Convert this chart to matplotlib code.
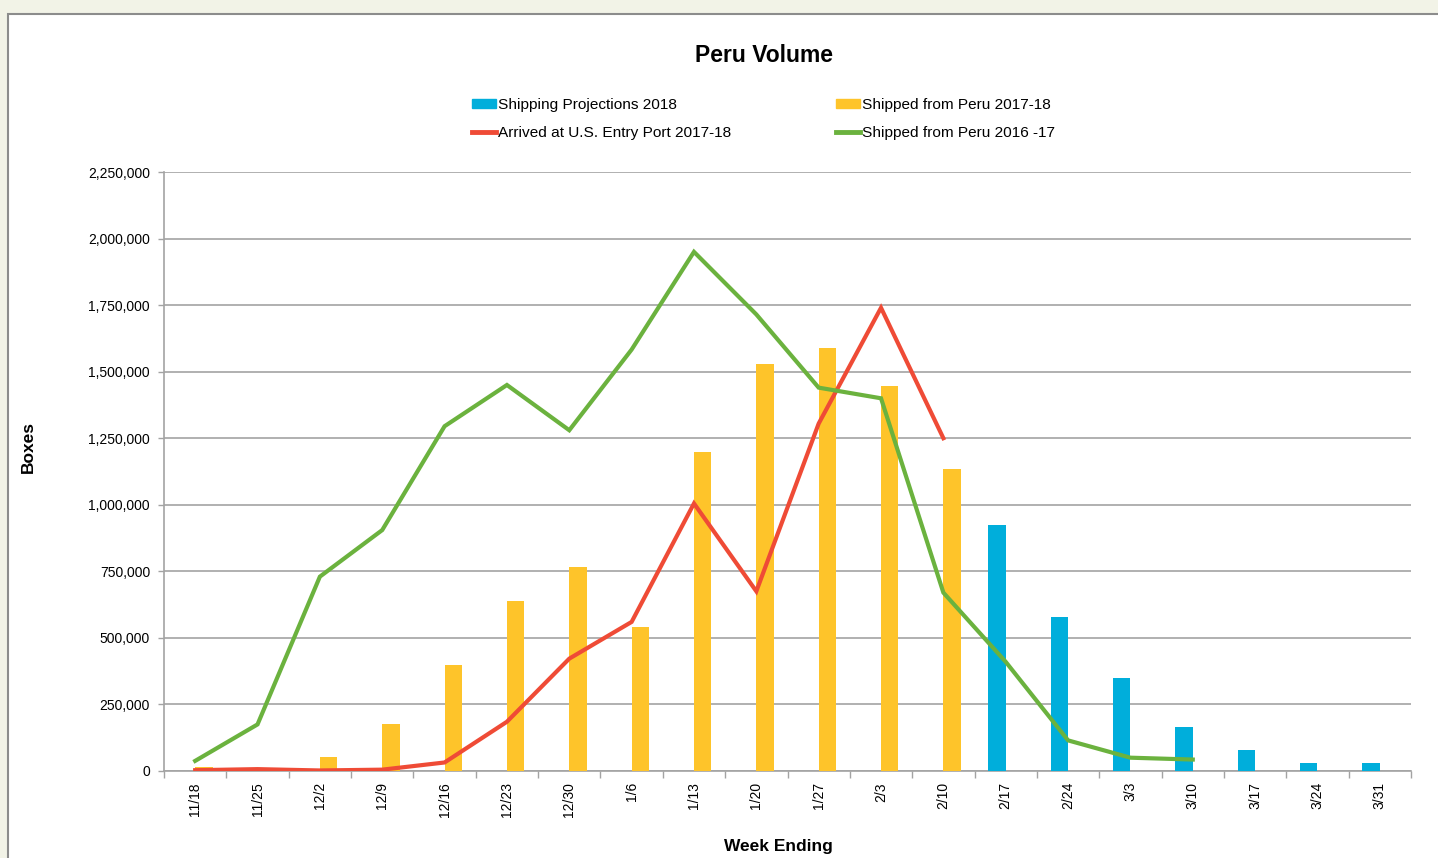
import numpy as np
import matplotlib.pyplot as plt
from matplotlib.patches import Rectangle, Patch
from matplotlib.lines import Line2D
from matplotlib.ticker import FuncFormatter

plt.rcParams['font.family'] = ['Liberation Sans', 'DejaVu Sans']

# week ending labels
weeks = ["11/18", "11/25", "12/2", "12/9", "12/16", "12/23", "12/30", "1/6",
         "1/13", "1/20", "1/27", "2/3", "2/10", "2/17", "2/24", "3/3",
         "3/10", "3/17", "3/24", "3/31"]

# bars (None = no value that week)
projections_2018 = [None] * 13 + [925000, 580000, 350000, 165000, 80000,
                                  30000, 30000]
shipped_2017_18 = [15000, 8000, 52000, 175000, 400000, 640000, 765000,
                   540000, 1200000, 1530000, 1590000, 1448000, 1135000] + [None] * 7

# lines
arrived_2017_18 = [3000, 7000, 2000, 5000, 32000, 185000, 422000, 560000,
                   1005000, 675000, 1305000, 1740000, 1250000] + [None] * 7
shipped_2016_17 = [38000, 175000, 730000, 905000, 1295000, 1450000, 1280000,
                   1583000, 1950000, 1715000, 1440000, 1400000, 670000,
                   410000, 115000, 50000, 43000, None, None, None]

blue = "#00aedb"
yellow = "#fec42a"
red = "#ef4b36"
green = "#6bb23e"
grid_c = "#a3a3a3"


def to_arr(vals):
    return np.array([np.nan if v is None else v for v in vals], dtype=float)


fig = plt.figure(figsize=(14.38, 8.58), dpi=100)
fig.patch.set_facecolor("#f2f3e7")

# white chart panel, running off the right and bottom edge
panel = Rectangle((8 / 1438, -0.1), 1.2, 1 - 14 / 858 + 0.1,
                  transform=fig.transFigure, facecolor="white",
                  edgecolor="#8c8c8c", linewidth=1.5, zorder=-10)
fig.patches.append(panel)

ax = fig.add_axes([164 / 1438, 1 - 771 / 858, (1411 - 164) / 1438, 599 / 858])
ax.set_facecolor("none")

x = np.arange(len(weeks))
w = 0.28
ax.bar(x - w / 2, to_arr(projections_2018), width=w, color=blue, zorder=3)
ax.bar(x + w / 2, to_arr(shipped_2017_18), width=w, color=yellow, zorder=3)
ax.plot(x, to_arr(arrived_2017_18), color=red, lw=3, zorder=4,
        solid_joinstyle="miter")
ax.plot(x, to_arr(shipped_2016_17), color=green, lw=3, zorder=4,
        solid_joinstyle="miter")

ax.set_xlim(-0.5, len(weeks) - 0.5)
ax.set_ylim(0, 2250000)
ax.set_yticks(np.arange(0, 2250001, 250000))
ax.yaxis.set_major_formatter(FuncFormatter(lambda v, p: f"{int(v):,}"))
ax.grid(axis="y", color=grid_c, lw=1.2, zorder=1)
ax.set_axisbelow(True)

ax.set_xticks(x)
ax.set_xticklabels(weeks, rotation=90, fontsize=10)
ax.set_xticks(np.arange(-0.5, len(weeks)), minor=True)
ax.tick_params(axis="x", which="major", length=0, pad=8)
ax.tick_params(axis="x", which="minor", length=5, color=grid_c, width=1)
ax.tick_params(axis="y", length=4, color=grid_c, width=1, labelsize=10, pad=6)

for s in ["top", "right"]:
    ax.spines[s].set_visible(False)
for s in ["left", "bottom"]:
    ax.spines[s].set_color(grid_c)
    ax.spines[s].set_linewidth(1.2)

fig.text(764 / 1438, 1 - 55 / 858, "Peru Volume", ha="center", va="center",
         fontsize=16.5, fontweight="bold")
fig.text(28 / 1438, 1 - 447 / 858, "Boxes", ha="center", va="center",
         rotation=90, fontsize=12.5, fontweight="bold")
fig.text(778 / 1438, 1 - 847 / 858, "Week Ending", ha="center", va="center",
         fontsize=12.5, fontweight="bold")

handles = [Patch(color=blue), Line2D([], [], color=red, lw=3.5),
           Patch(color=yellow), Line2D([], [], color=green, lw=3.5)]
labels = ["Shipping Projections 2018", "Arrived at U.S. Entry Port 2017-18",
          "Shipped from Peru 2017-18", "Shipped from Peru 2016 -17"]
fig.legend(handles, labels, ncol=2, loc="center left",
           bbox_to_anchor=(458 / 1438, 1 - 119 / 858), frameon=False,
           fontsize=11.1, handlelength=1.55, handleheight=0.55,
           handletextpad=0.15, columnspacing=6.8, labelspacing=0.95)

fig.savefig("out.png", dpi=100, facecolor=fig.get_facecolor())
